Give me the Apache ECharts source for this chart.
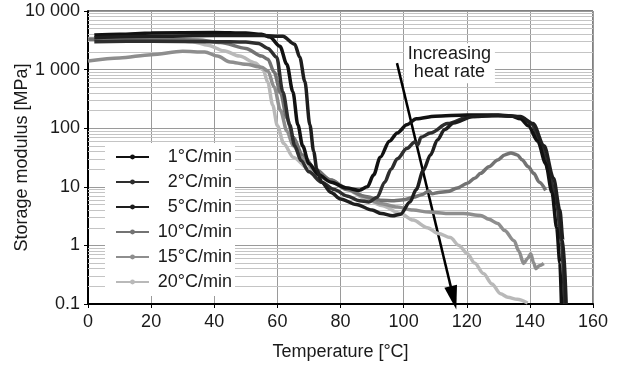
<!DOCTYPE html>
<html>
<head>
<meta charset="utf-8">
<script src="https://cdn.jsdelivr.net/npm/echarts@6/dist/echarts.min.js"></script>
<style>html,body{margin:0;padding:0;background:#fff}#c{width:618px;height:367px}</style>
</head>
<body>
<div id="c"></div>
<script>
// ---- data (temperature °C, storage modulus MPa) ----
const seriesNames = ['1°C/min', '2°C/min', '5°C/min', '10°C/min', '15°C/min', '20°C/min'];
const xTickLabels = ['0', '20', '40', '60', '80', '100', '120', '140', '160'];
const yTickValues = [0.1, 1, 10, 100, 1000, 10000];
const yTickLabels = ['0.1', '1', '10', '100', '1 000', '10 000'];
const minorMultipliers = [2, 3, 4, 5, 6, 7, 8, 9];

const rate1 = [[2,3900],[10,4000],[20,4200],[40,4300],[50,4200],[55,4000],[57.6,3600],[60.8,2500],[63,1230],[64.9,420],[66.5,114],[68,50],[70,25],[73,16],[77,12],[82,9.5],[86,8.7],[88.5,10],[90.5,16],[92.6,32],[95.5,60],[98,83],[101,115],[104,145],[110,160],[120,168],[130,168],[134,162],[137,145],[139.5,110],[142.5,60],[145,25],[147,8],[148.5,2],[149.5,0.5],[150,0.1]];
const rate2 = [[2,3000],[20,3050],[40,3000],[50,2950],[54,2800],[57,2300],[59.8,1620],[61.7,420],[63.9,114],[65.5,50],[67.5,28],[70,18],[74,12],[78,9],[82,7],[86,5.8],[89,5.5],[91.6,6.6],[94,12],[96,20],[98,30],[101,45],[103.5,58],[104.5,52],[105.5,70],[108.5,83],[113.9,120],[121,158],[128,165],[135,160],[138,145],[140.5,118],[143.5,55],[146,18],[148.5,5],[150,1.2],[151,0.1]];
const rate5 = [[2,3500],[20,3700],[40,3800],[55,3800],[61.7,3700],[65.5,2700],[67.1,1620],[68.7,630],[70.3,114],[71.5,40],[72.5,20],[74,12],[77,8],[80,6.2],[85,5],[90,4],[93,3.5],[96.5,3.2],[99,3.4],[102,5.5],[104,9],[106.2,19],[108.5,35],[110.7,63],[113,95],[115.8,123],[122,158],[130,165],[137,158],[141,120],[144.5,50],[147.5,14],[149.5,4],[150.5,1.2],[151.5,0.1]];
const rate10 = [[0,3300],[20,3300],[35,3200],[42,2900],[50,2300],[55,1700],[57,1500],[59,900],[61,400],[63,150],[65,70],[68,35],[72,20],[77,13],[82,9],[88,6.8],[92.6,5.9],[97,5.8],[100,6.0],[103,6.6],[106,7.4],[108,8.5],[109,7.6],[111,8.0],[113.9,8.3],[117,9.5],[120.2,11.5],[122.5,14],[124.4,17],[127,22],[129.8,28.7],[132,35],[134,37.8],[136,35],[137.5,29],[139.5,22],[141.2,17],[143,12],[145,8.7]];
const rate15 = [[0,1400],[10,1580],[20,1800],[30,2050],[37,2000],[41,1700],[45,1350],[50,1230],[55,1100],[57,950],[59,500],[61,200],[63,90],[65,50],[68,30],[72,19],[77,13],[82,9.5],[87,7],[92.6,5.2],[98,4.5],[103,4.0],[108,3.7],[113.9,3.5],[119,3.5],[124.4,3.25],[127,2.8],[129.8,2.37],[132,1.8],[135,1.2],[136.5,0.8],[138,0.49],[139.3,0.6],[140.3,0.72],[141.2,0.5],[141.9,0.4],[143,0.45],[144.4,0.49]];
const rate20 = [[0,3400],[15,3400],[25,3300],[33,3000],[38,2600],[43,2100],[48,1700],[53,1300],[55.5,1000],[57,600],[58.5,250],[60,110],[62,55],[65,32],[70,20],[76,13],[82,9],[88,6.3],[93,4.8],[99,3.5],[103,2.7],[107.5,2.0],[111,1.6],[114.8,1.36],[117.5,1.0],[120.2,0.72],[122.5,0.5],[125.3,0.33],[128,0.22],[130.7,0.15],[133,0.13],[136,0.12],[139.3,0.104]];

const arrowStart = [97.9, 1290];
const arrowEnd = [115.8, 0.127];
const annotationPos = [114.5, 1280];
const annotationText = 'Increasing\nheat rate';

const seriesData = [rate1, rate2, rate5, rate10, rate15, rate20];
const seriesColors = ['#111111', '#2e2e2e', '#1e1e1e', '#737373', '#8e8e8e', '#b9b9b9'];
const seriesZ = [16, 15, 17, 13, 12, 11];

const FONT = '"Liberation Sans", Arial, Helvetica, sans-serif';

// minor grid values (log decades)
const minorGrid = [];
yTickValues.slice(0, -1).forEach(d => minorMultipliers.forEach(m => minorGrid.push({ yAxis: +(d * m).toPrecision(3) })));

function yLabel(v) {
  const i = yTickValues.findIndex(t => Math.abs(Math.log10(t) - Math.log10(v)) < 1e-6);
  return i >= 0 ? yTickLabels[i] : '';
}

const chart = echarts.init(document.getElementById('c'), null, { renderer: 'canvas' });

const series = seriesNames.map((n, i) => ({
  name: n,
  type: 'line',
  data: seriesData[i],
  showSymbol: false,
  symbol: 'circle',
  symbolSize: 4,
  smooth: 0.3,
  smoothMonotone: 'x',
  z: seriesZ[i],
  color: seriesColors[i],
  lineStyle: { width: 3.5, color: seriesColors[i] },
  itemStyle: { color: seriesColors[i] },
  animation: false
}));

series.push({
  name: 'minor-grid',
  type: 'line',
  data: [],
  z: 1,
  silent: true,
  animation: false,
  markLine: {
    silent: true,
    symbol: 'none',
    animation: false,
    label: { show: false },
    lineStyle: { color: '#c4c4c4', width: 1, type: 'solid' },
    data: minorGrid
  }
});

series.push({
  name: 'annotation',
  type: 'line',
  data: [],
  z: 20,
  silent: true,
  animation: false,
  markLine: {
    silent: true,
    animation: false,
    symbol: ['none', 'triangle'],
    symbolSize: [13, 24],
    label: { show: false },
    lineStyle: { color: '#000', width: 2.5, type: 'solid' },
    data: [[{ coord: arrowStart }, { coord: arrowEnd }]]
  },
  markPoint: {
    silent: true,
    animation: false,
    symbol: 'rect',
    symbolSize: 0,
    data: [{ coord: annotationPos }],
    label: {
      show: true,
      formatter: annotationText,
      color: '#1a1a1a',
      fontFamily: FONT,
      fontSize: 18,
      lineHeight: 18,
      align: 'center',
      verticalAlign: 'middle',
      position: 'inside',
      backgroundColor: '#fff',
      padding: [2, 4, 2, 4]
    }
  }
});

chart.setOption({
  backgroundColor: '#fff',
  animation: false,
  textStyle: { fontFamily: FONT },
  grid: { left: 88, right: 25, top: 11, bottom: 63, show: true, borderColor: '#000', borderWidth: 1, backgroundColor: 'transparent', containLabel: false, outerBoundsMode: 'none' },
  legend: {
    data: seriesNames,
    orient: 'vertical',
    left: 105,
    top: 143,
    padding: [5, 3, 5, 10],
    itemGap: 7,
    itemWidth: 33,
    itemHeight: 6,
    backgroundColor: '#fff',
    z: 30,
    formatter: '{a|{name}}',
    textStyle: {
      fontFamily: FONT,
      fontSize: 18,
      color: '#1a1a1a',
      rich: { a: { width: 78, align: 'right', fontSize: 18, fontFamily: FONT, color: '#1a1a1a', lineHeight: 18 } }
    }
  },
  xAxis: {
    type: 'value',
    min: 0,
    max: 160,
    interval: 20,
    name: 'Temperature [°C]',
    nameLocation: 'middle',
    nameGap: 39,
    nameMoveOverlap: false,
    nameTextStyle: { fontFamily: FONT, fontSize: 18, color: '#1a1a1a' },
    axisLine: { show: true, onZero: false, lineStyle: { color: '#000', width: 2 } },
    axisTick: { show: true, inside: false, length: 4, lineStyle: { color: '#000', width: 1 } },
    axisLabel: { margin: 9, fontFamily: FONT, fontSize: 18, color: '#1a1a1a', formatter: v => xTickLabels[Math.round(v / 20)] },
    splitLine: { show: true, lineStyle: { color: '#9a9a9a', width: 1 } }
  },
  yAxis: {
    type: 'log',
    logBase: 10,
    min: 0.1,
    max: 10000,
    name: 'Storage modulus [MPa]',
    nameLocation: 'middle',
    nameGap: 57,
    nameMoveOverlap: false,
    nameTextStyle: { fontFamily: FONT, fontSize: 18, color: '#1a1a1a' },
    axisLine: { show: true, lineStyle: { color: '#000', width: 2 } },
    axisTick: { show: true, inside: false, length: 4, lineStyle: { color: '#000', width: 1 } },
    axisLabel: { margin: 8, fontFamily: FONT, fontSize: 18, color: '#1a1a1a', formatter: yLabel },
    splitLine: { show: true, lineStyle: { color: '#9a9a9a', width: 1 } },
    minorTick: { show: false },
    minorSplitLine: { show: false }
  },
  series: series
});
</script>
</body>
</html>
